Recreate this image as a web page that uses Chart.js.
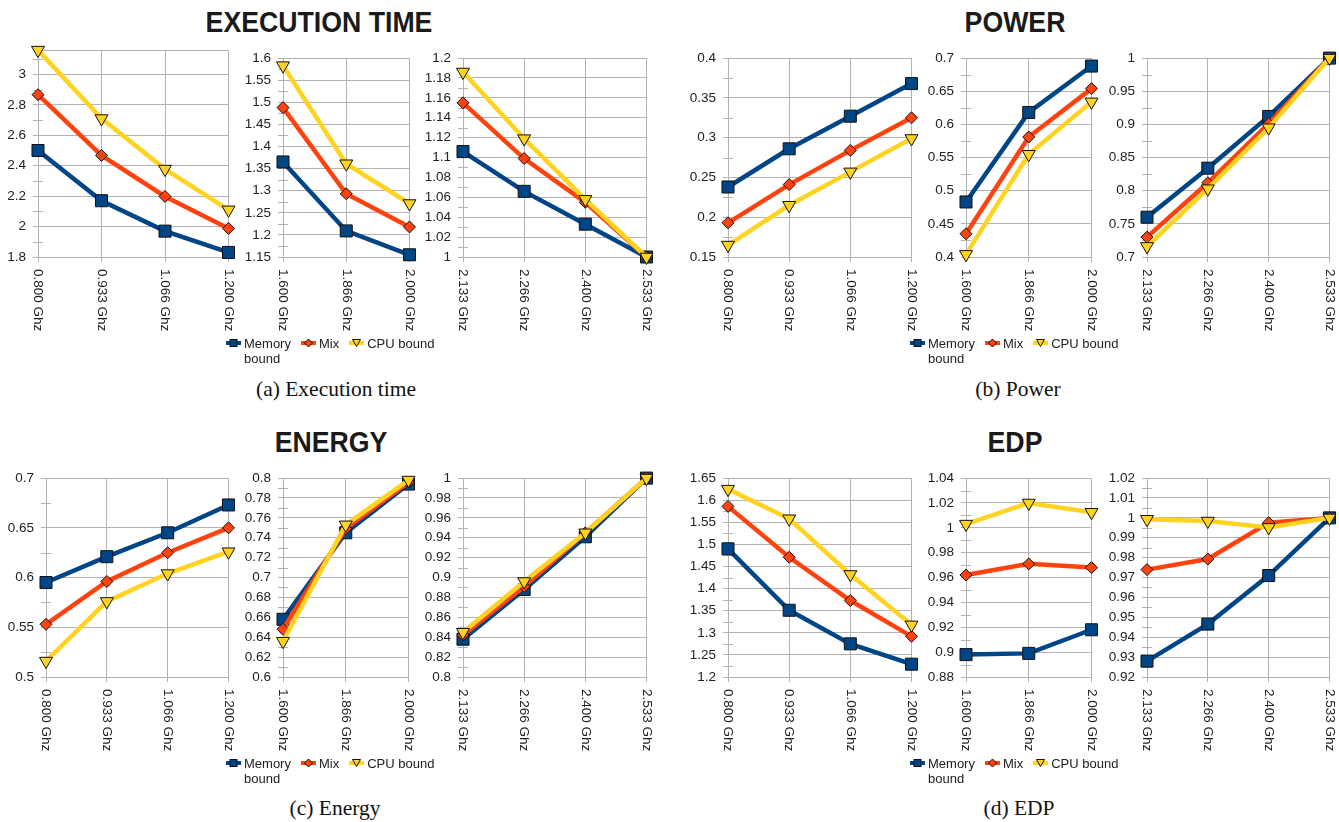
<!DOCTYPE html>
<html>
<head>
<meta charset="utf-8">
<title>DVFS results</title>
<script src="https://cdn.jsdelivr.net/npm/chart.js@4.4.1/dist/chart.umd.min.js"></script>
<style>
  body { margin: 0; background: #fff; width: 1339px; height: 822px; overflow: hidden; position: relative; font-family: "Liberation Sans", Arial, sans-serif; }
  canvas { position: absolute; }
  .title { position: absolute; font: bold 29px "Liberation Sans", Arial, sans-serif; color: #1a1a1a; white-space: nowrap; transform: translate(-50%, -50%) scaleX(0.92); }
  .caption { position: absolute; font: 21.5px "Liberation Serif", "Times New Roman", serif; color: #111; white-space: nowrap; transform: translate(-50%, -50%); }
  .legend { position: absolute; display: flex; align-items: flex-start; font-size: 13px; line-height: 15px; color: #222; }
  .legend .item { display: flex; align-items: flex-start; margin-right: 10px; }
  .legend svg { margin-top: 2.5px; margin-right: 3px; flex: none; }
  .legend .txt { white-space: pre; }
</style>
</head>
<body>
<script>
// frekvenssit, jaettu kolmeen kuvaajaan (4 + 3 + 4)
const freqLabels = ['0.800 Ghz', '0.933 Ghz', '1.066 Ghz', '1.200 Ghz',
                    '1.600 Ghz', '1.866 Ghz', '2.000 Ghz',
                    '2.133 Ghz', '2.266 Ghz', '2.400 Ghz', '2.533 Ghz'];
const groupSizes = [4, 3, 4];
const legendLabels = ['Memory\nbound', 'Mix', 'CPU bound'];

// (a) execution time
const execMemory = [2.50, 2.17, 1.97, 1.83, 1.365, 1.209, 1.155, 1.106, 1.066, 1.033, 1.0];
const execMix    = [2.867, 2.468, 2.198, 1.988, 1.488, 1.293, 1.218, 1.155, 1.099, 1.055, 1.0];
const execCpu    = [3.16, 2.71, 2.378, 2.11, 1.583, 1.361, 1.271, 1.186, 1.119, 1.058, 1.0];
const execTicks  = [[1.8, 3.16, 0.2], [1.15, 1.6, 0.05], [1, 1.2, 0.02]];

// (b) power
const powerMemory = [0.238, 0.286, 0.327, 0.368, 0.483, 0.618, 0.688, 0.760, 0.834, 0.912, 1.0];
const powerMix    = [0.193, 0.241, 0.284, 0.325, 0.435, 0.581, 0.654, 0.730, 0.812, 0.901, 1.0];
const powerCpu    = [0.165, 0.215, 0.257, 0.299, 0.404, 0.555, 0.634, 0.716, 0.803, 0.895, 1.0];
const powerTicks  = [[0.15, 0.4, 0.05], [0.4, 0.7, 0.05], [0.7, 1, 0.05]];

// (c) energy
const energyMemory = [0.595, 0.621, 0.645, 0.673, 0.658, 0.745, 0.794, 0.838, 0.888, 0.941, 1.0];
const energyMix    = [0.553, 0.596, 0.625, 0.650, 0.648, 0.749, 0.796, 0.842, 0.891, 0.945, 1.0];
const energyCpu    = [0.516, 0.576, 0.604, 0.626, 0.636, 0.753, 0.798, 0.845, 0.896, 0.945, 1.0];
const energyTicks  = [[0.5, 0.7, 0.05], [0.6, 0.8, 0.02], [0.8, 1, 0.02]];

// (d) EDP
const edpMemory = [1.490, 1.351, 1.275, 1.229, 0.898, 0.899, 0.918, 0.928, 0.9466, 0.971, 1.0];
const edpMix    = [1.586, 1.471, 1.373, 1.292, 0.962, 0.971, 0.968, 0.974, 0.9793, 0.9976, 1.0];
const edpCpu    = [1.625, 1.558, 1.432, 1.318, 1.003, 1.020, 1.0125, 0.9993, 0.9984, 0.9952, 1.0];
const edpTicks  = [[1.2, 1.65, 0.05], [0.88, 1.04, 0.02], [0.92, 1.02, 0.01]];

const GRID = '#b3b3b3';
const TXT = '#222';
const FONT = '"Liberation Sans", Arial, sans-serif';
const TICK_SIZE = 13.5;

const seriesStyle = [
    { color: '#004586', point: 'rect', radius: 8.5, rotation: 0 },
    { color: '#ff420e', point: 'rectRot', radius: 6, rotation: 0 },
    { color: '#ffd320', point: 'triangle', radius: 7.5, rotation: 180 }
];

// paneelien asettelu: plot-alueet [vasen, oikea, ylä, ala]
const panels = [
    { title: 'EXECUTION TIME', caption: '(a) Execution time', series: [execMemory, execMix, execCpu], ticks: execTicks,
      boxes: [[38, 230, 45, 257], [283, 411, 53, 257], [463, 648, 53, 257]],
      titleAt: [319, 22], legendAt: [226, 343], captionAt: [336, 389] },
    { title: 'POWER', caption: '(b) Power', series: [powerMemory, powerMix, powerCpu], ticks: powerTicks,
      boxes: [[728, 913, 53, 257], [966, 1093, 53, 257], [1147, 1331, 53, 257]],
      titleAt: [1015, 22], legendAt: [910, 343], captionAt: [1018, 389] },
    { title: 'ENERGY', caption: '(c) Energy', series: [energyMemory, energyMix, energyCpu], ticks: energyTicks,
      boxes: [[46, 230, 473, 677], [283, 410, 473, 677], [463, 648, 473, 677]],
      titleAt: [331, 442], legendAt: [226, 763], captionAt: [335, 808] },
    { title: 'EDP', caption: '(d) EDP', series: [edpMemory, edpMix, edpCpu], ticks: edpTicks,
      boxes: [[728, 913, 473, 677], [966, 1093, 473, 677], [1147, 1331, 473, 677]],
      titleAt: [1015, 442], legendAt: [910, 763], captionAt: [1019, 808] }
];

// pienet väliviivat y-akselille (puolivälit)
const minorTicks = {
    id: 'minorTicks',
    beforeDatasetsDraw(chart, args, opts) {
        const y = chart.scales.y, ctx = chart.ctx, step = opts.step;
        ctx.save();
        ctx.strokeStyle = GRID;
        ctx.lineWidth = 1;
        for (let v = y.min + step / 2; v < y.max - 1e-9; v += step) {
            const py = Math.round(y.getPixelForValue(v)) + 0.5;
            ctx.beginPath();
            ctx.moveTo(y.right - 5, py);
            ctx.lineTo(y.right + 5, py);
            ctx.stroke();
        }
        ctx.restore();
    }
};

// x-akselin tekstit pystyyn, luetaan ylhäältä alas
const verticalLabels = {
    id: 'verticalLabels',
    afterDraw(chart) {
        const xs = chart.scales.x, ctx = chart.ctx;
        ctx.save();
        ctx.font = TICK_SIZE + 'px ' + FONT;
        ctx.fillStyle = TXT;
        ctx.textAlign = 'left';
        ctx.textBaseline = 'middle';
        xs.ticks.forEach((t, i) => {
            ctx.save();
            ctx.translate(xs.getPixelForTick(i), xs.top + 12);
            ctx.rotate(Math.PI / 2);
            ctx.fillText(xs.getLabelForValue(t.value), 0, 0);
            ctx.restore();
        });
        ctx.restore();
    }
};

function onStep(v, step) {
    const r = v / step;
    return Math.abs(r - Math.round(r)) < 1e-6;
}

function makeChart(box, labels, values, tk) {
    const [L, R, T, B] = box;
    const yw = Math.min(45, L), padT = 10, padR = 8, xh = 85;
    const w = R - L + yw + padR, h = B - T + padT + xh;
    const cv = document.createElement('canvas');
    cv.width = w; cv.height = h;
    cv.style.left = (L - yw) + 'px';
    cv.style.top = (T - padT) + 'px';
    cv.style.width = w + 'px';
    cv.style.height = h + 'px';
    document.body.appendChild(cv);

    new Chart(cv, {
        type: 'line',
        data: {
            labels: labels,
            datasets: values.map((d, i) => ({
                label: legendLabels[i],
                data: d,
                borderColor: seriesStyle[i].color,
                backgroundColor: seriesStyle[i].color,
                pointBackgroundColor: seriesStyle[i].color,
                pointBorderColor: '#111',
                pointBorderWidth: 1,
                borderWidth: 4.5,
                pointStyle: seriesStyle[i].point,
                pointRadius: seriesStyle[i].radius,
                pointRotation: seriesStyle[i].rotation,
                tension: 0,
                clip: false,
                order: 2 - i
            }))
        },
        options: {
            responsive: false,
            animation: false,
            devicePixelRatio: 1,
            layout: { padding: { top: padT, right: padR, left: 0, bottom: 0 } },
            plugins: {
                legend: { display: false },
                tooltip: { enabled: false },
                minorTicks: { step: tk[2] }
            },
            scales: {
                x: {
                    type: 'category',
                    offset: false,
                    grid: { color: GRID, tickLength: 5 },
                    border: { color: GRID },
                    ticks: { display: false },
                    afterFit: s => { s.height = xh; }
                },
                y: {
                    min: tk[0],
                    max: tk[1],
                    grid: { color: GRID, tickLength: 5 },
                    border: { color: GRID },
                    ticks: {
                        stepSize: tk[2],
                        autoSkip: false,
                        padding: 7,
                        color: TXT,
                        font: { family: FONT, size: TICK_SIZE },
                        callback: v => onStep(v, tk[2]) ? String(parseFloat(v.toFixed(4))) : ''
                    },
                    afterFit: s => { s.width = yw; }
                }
            }
        },
        plugins: [minorTicks, verticalLabels]
    });
}

function legendSymbol(st) {
    let mark;
    if (st.point === 'rect') {
        mark = `<rect x="4" y="1.5" width="7" height="7" fill="${st.color}" stroke="#111" stroke-width="1"/>`;
    } else if (st.point === 'rectRot') {
        mark = `<polygon points="7.5,1 11.5,5 7.5,9 3.5,5" fill="${st.color}" stroke="#111" stroke-width="1"/>`;
    } else {
        mark = `<polygon points="3.5,1.5 11.5,1.5 7.5,8.5" fill="${st.color}" stroke="#111" stroke-width="1"/>`;
    }
    return `<svg width="15" height="10"><line x1="0" y1="5" x2="15" y2="5" stroke="${st.color}" stroke-width="4"/>${mark}</svg>`;
}

function addText(cls, text, x, y) {
    const el = document.createElement('div');
    el.className = cls;
    el.textContent = text;
    el.style.left = x + 'px';
    el.style.top = y + 'px';
    document.body.appendChild(el);
}

panels.forEach(p => {
    addText('title', p.title, p.titleAt[0], p.titleAt[1]);
    addText('caption', p.caption, p.captionAt[0], p.captionAt[1]);

    let start = 0;
    groupSizes.forEach((n, g) => {
        const labels = freqLabels.slice(start, start + n);
        const values = p.series.map(s => s.slice(start, start + n));
        makeChart(p.boxes[g], labels, values, p.ticks[g]);
        start += n;
    });

    const lg = document.createElement('div');
    lg.className = 'legend';
    lg.style.left = p.legendAt[0] + 'px';
    lg.style.top = (p.legendAt[1] - 7.5) + 'px';
    lg.innerHTML = legendLabels.map((t, i) =>
        `<span class="item">${legendSymbol(seriesStyle[i])}<span class="txt">${t}</span></span>`).join('');
    document.body.appendChild(lg);
});
</script>
</body>
</html>
